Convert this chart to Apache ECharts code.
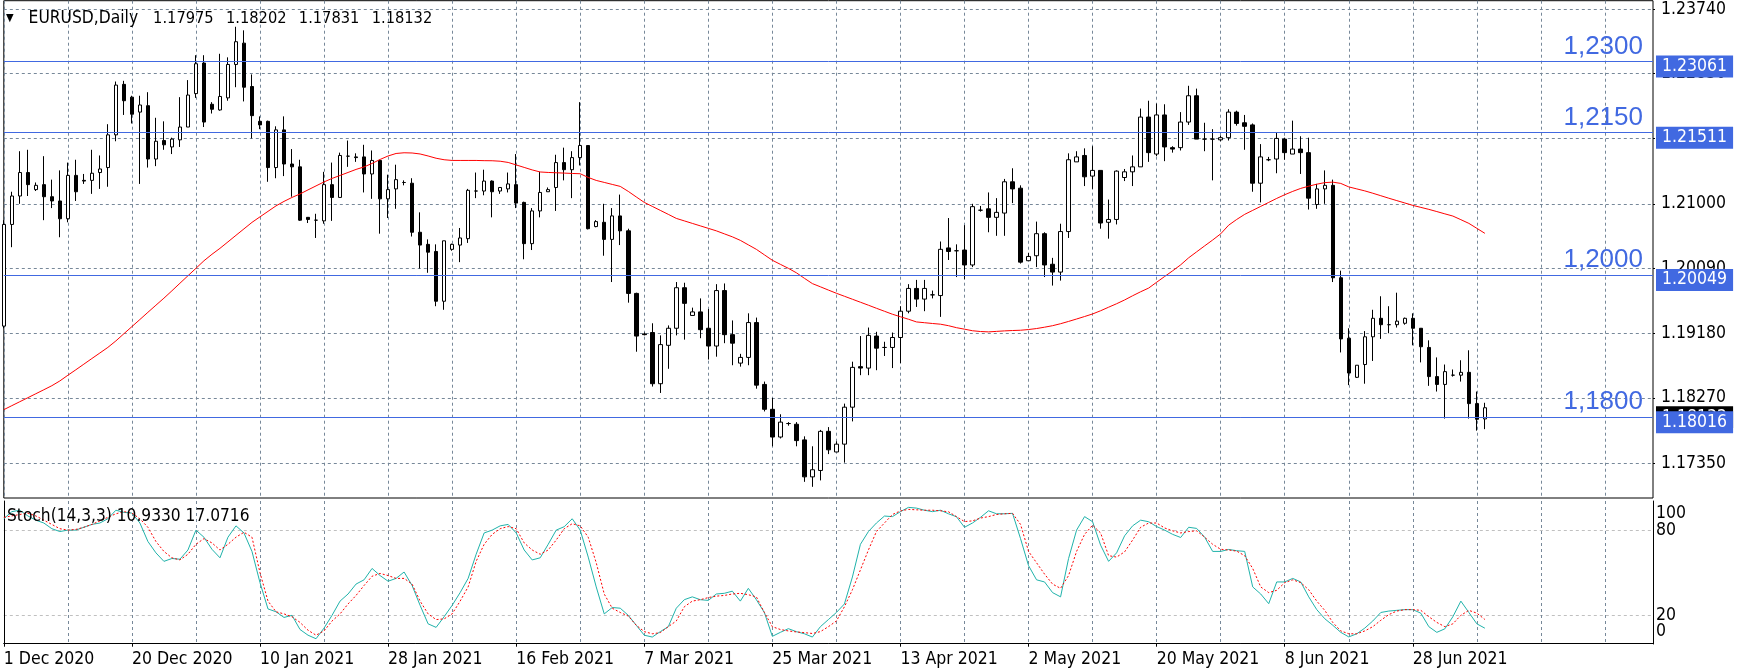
<!DOCTYPE html>
<html><head><meta charset="utf-8">
<script src="https://cdn.jsdelivr.net/npm/echarts@6/dist/echarts.min.js"></script>
<style>html,body{margin:0;padding:0;background:#fff}#c{width:1744px;height:672px}</style>
</head><body><div id="c"></div><script>
const symbolName = 'EURUSD,Daily';
const dateLabels = ['1 Dec 2020','20 Dec 2020','10 Jan 2021','28 Jan 2021','16 Feb 2021','7 Mar 2021','25 Mar 2021','13 Apr 2021','2 May 2021','20 May 2021','8 Jun 2021','28 Jun 2021'];
const barsPerLabel = 16;
const barsPerGrid = 8;
const totalSlots = 207;

const open = [1.1928,1.2071,1.2111,1.2144,1.2120,1.2127,1.2110,1.2104,1.2079,1.2140,
1.2133,1.2133,1.2144,1.2151,1.2197,1.2268,1.2250,1.2229,1.2238,1.2163,
1.2189,1.2180,1.2190,1.2208,1.2255,1.2298,1.2240,1.2232,1.2249,1.2296,
1.2326,1.2265,1.2216,1.2216,1.2151,1.2204,1.2156,1.2152,1.2081,1.2077,
1.2076,1.2127,1.2109,1.2167,1.2166,1.2166,1.2142,1.2161,1.2107,1.2121,
1.2130,1.2129,1.2060,1.2043,1.2033,1.1963,1.2036,1.2042,1.2051,1.2118,
1.2118,1.2132,1.2118,1.2121,1.2127,1.2102,1.2044,1.2090,1.2117,1.2123,
1.2158,1.2148,1.2165,1.2182,1.2068,1.2074,1.2050,1.2083,1.2062,1.1974,
1.1917,1.1919,1.1847,1.1901,1.1925,1.1982,1.1943,1.1948,1.1925,1.1900,
1.1978,1.1916,1.1876,1.1884,1.1933,1.1846,1.1811,1.1772,1.1791,1.1790,
1.1768,1.1716,1.1725,1.1780,1.1751,1.1762,1.1814,1.1871,1.1869,1.1914,
1.1898,1.1898,1.1912,1.1949,1.1981,1.1966,1.1972,1.1971,1.2038,1.2034,
1.2035,1.2014,1.2091,1.2093,1.2081,1.2087,1.2131,1.2122,1.2020,1.2027,
1.2058,1.2015,1.2004,1.2061,1.2159,1.2168,1.2139,1.2147,1.2074,1.2078,
1.2137,1.2145,1.2152,1.2222,1.2170,1.2225,1.2179,1.2179,1.2215,1.2252,
1.2191,1.2191,1.2190,1.2193,1.2229,1.2214,1.2211,1.2129,1.2162,1.2163,
1.2191,1.2170,1.2177,1.2172,1.2099,1.2121,1.2126,1.1996,1.1911,1.1856,
1.1874,1.1913,1.1939,1.1930,1.1930,1.1932,1.1939,1.1925,1.1898,1.1857,
1.1846,1.1859,1.1859,1.1863,1.1819,1.17975];
const high = [1.2077,1.2117,1.2174,1.2176,1.2130,1.2167,1.2134,1.2147,1.2158,1.2162,
1.2142,1.2176,1.2168,1.2212,1.2272,1.2273,1.2252,1.2252,1.2257,1.2221,
1.2216,1.2193,1.2250,1.2274,1.2309,1.2309,1.2243,1.2311,1.2306,1.2349,
1.2344,1.2282,1.2223,1.2217,1.2209,1.2223,1.2177,1.2162,1.2081,1.2086,
1.2145,1.2158,1.2172,1.2189,1.2171,1.2183,1.2175,1.2162,1.2141,1.2155,
1.2133,1.2136,1.2088,1.2050,1.2043,1.2048,1.2044,1.2066,1.2121,1.2144,
1.2148,1.2133,1.2123,1.2144,1.2170,1.2103,1.2094,1.2145,1.2123,1.2169,
1.2179,1.2174,1.2243,1.2182,1.2077,1.2100,1.2094,1.2113,1.2065,1.1975,
1.1919,1.1932,1.1915,1.1929,1.1990,1.1989,1.1954,1.1967,1.1952,1.1987,
1.1988,1.1936,1.1889,1.1946,1.1940,1.1850,1.1827,1.1804,1.1793,1.1793,
1.1773,1.1759,1.1782,1.1786,1.1766,1.1819,1.1878,1.1914,1.1926,1.1920,
1.1906,1.1919,1.1956,1.1987,1.1993,1.1993,1.1978,1.2047,1.2080,1.2043,
1.2070,1.2100,1.2097,1.2116,1.2108,1.2135,1.2150,1.2126,1.2031,1.2075,
1.2060,1.2024,1.2072,1.2171,1.2174,1.2178,1.2181,1.2147,1.2106,1.2147,
1.2149,1.2168,1.2234,1.2245,1.2241,1.2240,1.2181,1.2229,1.2266,1.2262,
1.2214,1.2205,1.2196,1.2233,1.2231,1.2225,1.2213,1.2184,1.2166,1.2201,
1.2193,1.2217,1.2195,1.2193,1.2128,1.2147,1.2134,1.2006,1.1925,1.1873,
1.1921,1.1951,1.1970,1.1956,1.1975,1.1940,1.1946,1.1925,1.1908,1.1884,
1.1874,1.1867,1.1880,1.1894,1.1836,1.18202];
const low = [1.1925,1.2039,1.2100,1.2111,1.2118,1.2077,1.2094,1.2053,1.2074,1.2104,
1.2128,1.2114,1.2121,1.2124,1.2188,1.2225,1.2213,1.2128,1.2151,1.2153,
1.2176,1.2170,1.2180,1.2208,1.2249,1.2208,1.2227,1.2231,1.2245,1.2264,
1.2244,1.2192,1.2205,1.2131,1.2136,1.2139,1.2110,1.2076,1.2073,1.2052,
1.2072,1.2076,1.2109,1.2152,1.2159,1.2116,1.2107,1.2058,1.2080,1.2093,
1.2126,1.2054,1.2009,1.2003,1.1956,1.1951,1.2034,1.2018,1.2045,1.2108,
1.2112,1.2081,1.2114,1.2116,1.2094,1.2022,1.2035,1.2081,1.2117,1.2090,
1.2133,1.2108,1.2154,1.2064,1.2067,1.2027,1.1990,1.2042,1.1961,1.1892,
1.1915,1.1843,1.1834,1.1868,1.1915,1.1909,1.1943,1.1911,1.1881,1.1885,
1.1904,1.1873,1.1871,1.1873,1.1840,1.1808,1.1759,1.1770,1.1788,1.1759,
1.1709,1.1702,1.1711,1.1748,1.1751,1.1736,1.1794,1.1859,1.1859,1.1866,
1.1886,1.1869,1.1876,1.1946,1.1955,1.1949,1.1967,1.1941,1.2021,1.1997,
1.1994,1.2011,1.2089,1.2060,1.2055,1.2055,1.2101,1.2016,1.2020,1.2011,
1.1997,1.1985,1.1992,1.2052,1.2159,1.2125,1.2121,1.2065,1.2051,1.2071,
1.2132,1.2125,1.2152,1.2159,1.2167,1.2160,1.2172,1.2175,1.2211,1.2191,
1.2174,1.2133,1.2188,1.2189,1.2210,1.2176,1.2117,1.2102,1.2160,1.2143,
1.2162,1.2170,1.2142,1.2092,1.2093,1.2100,1.1990,1.1891,1.1845,1.1855,
1.1847,1.1879,1.1910,1.1918,1.1926,1.1930,1.1901,1.1877,1.1844,1.1836,
1.1798,1.1857,1.1850,1.1798,1.1781,1.17831];
const close = [1.2071,1.2111,1.2144,1.2127,1.2126,1.2110,1.2104,1.2079,1.2140,1.2117,
1.2132,1.2143,1.2149,1.2197,1.2267,1.2245,1.2226,1.2239,1.2163,1.2188,
1.2183,1.2191,1.2208,1.2253,1.2297,1.2215,1.2233,1.2251,1.2296,1.2328,
1.2264,1.2224,1.2211,1.2151,1.2204,1.2156,1.2152,1.2077,1.2078,1.2077,
1.2127,1.2109,1.2168,1.2167,1.2165,1.2142,1.2161,1.2107,1.2120,1.2134,
1.2130,1.2060,1.2042,1.2032,1.1963,1.2048,1.2043,1.2052,1.2119,1.2118,
1.2132,1.2117,1.2123,1.2128,1.2101,1.2044,1.2090,1.2116,1.2120,1.2158,
1.2148,1.2165,1.2182,1.2065,1.2075,1.2050,1.2083,1.2062,1.1974,1.1914,
1.1916,1.1847,1.1902,1.1925,1.1982,1.1960,1.1948,1.1923,1.1900,1.1978,
1.1916,1.1904,1.1884,1.1933,1.1845,1.1811,1.1772,1.1793,1.1791,1.1767,
1.1716,1.1726,1.1780,1.1754,1.1762,1.1814,1.1870,1.1869,1.1915,1.1897,
1.1898,1.1912,1.1949,1.1981,1.1966,1.1981,1.1972,1.2036,1.2033,1.2034,
1.2014,1.2096,1.2091,1.2081,1.2088,1.2131,1.2121,1.2018,1.2026,1.2058,
1.2014,1.2004,1.2061,1.2162,1.2166,1.2138,1.2147,1.2073,1.2078,1.2146,
1.2145,1.2152,1.2222,1.2172,1.2225,1.2180,1.2177,1.2215,1.2252,1.2191,
1.2191,1.2191,1.2193,1.2229,1.2213,1.2209,1.2129,1.2166,1.2162,1.2192,
1.2172,1.2177,1.2172,1.2108,1.2121,1.2126,1.1996,1.1910,1.1862,1.1873,
1.1913,1.1939,1.1930,1.1930,1.1935,1.1939,1.1925,1.1899,1.1857,1.1846,
1.1864,1.1859,1.1863,1.1819,1.1797,1.18132];
const ma50 = [1.18105,1.18161,1.18217,1.18273,1.18329,1.18385,1.18442,1.18509,1.18589,1.18666,
1.18745,1.18824,1.18902,1.18981,1.19072,1.19173,1.19273,1.19373,1.19474,1.19574,
1.19673,1.19777,1.19883,1.19988,1.20093,1.20199,1.20290,1.20374,1.20465,1.20557,
1.20648,1.20739,1.20817,1.20894,1.20971,1.21034,1.21090,1.21139,1.21196,1.21252,
1.21308,1.21357,1.21399,1.21441,1.21484,1.21519,1.21568,1.21624,1.21673,1.21708,
1.21718,1.21715,1.21701,1.21673,1.21641,1.21620,1.21610,1.21610,1.21610,1.21610,
1.21607,1.21606,1.21599,1.21582,1.21547,1.21512,1.21477,1.21448,1.21441,1.21437,
1.21432,1.21427,1.21423,1.21371,1.21329,1.21301,1.21273,1.21245,1.21175,1.21097,
1.21020,1.20964,1.20908,1.20852,1.20795,1.20760,1.20725,1.20690,1.20655,1.20620,
1.20578,1.20536,1.20486,1.20423,1.20360,1.20283,1.20206,1.20149,1.20093,1.20030,
1.19953,1.19878,1.19833,1.19787,1.19742,1.19700,1.19658,1.19616,1.19574,1.19531,
1.19489,1.19447,1.19412,1.19377,1.19339,1.19328,1.19317,1.19307,1.19286,1.19258,
1.19237,1.19215,1.19204,1.19199,1.19206,1.19213,1.19218,1.19222,1.19232,1.19246,
1.19265,1.19286,1.19314,1.19346,1.19380,1.19415,1.19451,1.19496,1.19546,1.19595,
1.19648,1.19707,1.19763,1.19815,1.19897,1.19978,1.20058,1.20142,1.20241,1.20325,
1.20409,1.20491,1.20578,1.20700,1.20780,1.20852,1.20908,1.20964,1.21020,1.21076,
1.21128,1.21175,1.21217,1.21248,1.21276,1.21298,1.21305,1.21287,1.21238,1.21210,
1.21182,1.21149,1.21114,1.21079,1.21045,1.21012,1.20978,1.20950,1.20922,1.20891,
1.20859,1.20828,1.20777,1.20725,1.20655,1.20585];
const stochK = [88,93,94,90,87,85,81,79,80,80,
82,84,85,88,94,92.5,92,85,72,64,
58,60,59.5,66,80,75,66.5,60.5,75,83,
78,65,43,24.5,22.5,18.5,20,10,6,3.5,
11,20,30,35,42,45,53,48,44,46,
50.5,41,27,14,11.5,19,27,36,46,63,
78,80,83,84,78,66,59,60.5,70,80,
82.4,88,80,61,40,21,25.5,25,20,13,
6,4.7,8.5,12,25,31,33,31,30.5,35,
35.5,37,30,39,31,22,5.2,8,10.6,8.5,
7,4.7,12,17,22,28,47,70,79,85,
89.9,89.5,93,96,95.5,94,93,94,91.5,89.4,
82,85,89,93.6,91.5,91.5,91.8,74,55,45,
43.5,36,33,60,80,89.5,85.9,69.4,58,64,
76,83,87,85.9,82.5,80,77,74.8,82,81.2,
75,65,65,66.4,65.5,65,40,35,28.2,43.5,
43.5,46,43.5,33,24,17.6,13,8,4.8,7,
11,16,22,23,23.5,24,24,21.5,12,8,
10.5,19,30,22,14,10.9330];
const stochD = [89,90,91,92,90,87,84,81,80,80.5,
82,84,86.5,89,91.5,93,92,88,82,72,
65,60.5,59,63,70,74,71,66,70,75,
78.5,75,50,30,22.5,21,19,15,9.5,6,
9,16,21,28,34,41,47.5,49.5,48,46,
46,42,30,21,17,17.5,21,30,40,58,
70,77,81,82.5,81,71,66,63,66,73,
81,84.5,83,75,57,35,25,22,19.5,13,
8.5,7,7.8,12,16,26,30,31,32.5,33.5,
34,35,35.5,34.5,33,22,12,10,9,8.3,
7.8,7.2,8.5,12,16,26,38,52,66,79,
85,91,93.5,94.6,94.3,94,94,93.6,92.9,89.5,
86,86.5,88.5,89.5,91,91.5,91.8,84,65,57,
49,42,39,48,65,77,83.5,78,62,61,
64.7,73,82,85,85,81.5,79.5,78,79,79.5,
75,70,66.5,66,65.2,62,53,40,36,37.6,
43,45,43,38,30,23.5,15,9,7,7,
9,12,16.5,20.5,23,24,24,23.5,19,15,
12,14,20,23.5,21.5,17.0716];

const priceTicks = [1.17350,1.18270,1.19180,1.20090,1.21000,1.21920,1.22830,1.23740];
const levelValues = [1.23061,1.21511,1.20049,1.18016];
const levelNames = ['1,2300','1,2150','1,2000','1,1800'];
const stochMidTicks = [20,80];
const stochTopTick = [100];
const stochBottomTick = [0];

const FONT = "'DejaVu Sans Condensed','DejaVu Sans',sans-serif";
const GRIDC = '#778899';
const BLUE = '#4169E1';
const N = open.length;
const last = N - 1;
const cats = Array.from({length: totalSlots}, (_, i) => String(i));
const candles = open.map((o, i) => [o, close[i], low[i], high[i]]);

const isLabelIdx = (idx) => idx % barsPerLabel === 0 && idx / barsPerLabel < dateLabels.length;
const isGridIdx = (idx) => idx % barsPerGrid === 0;

const marks = [];
marks.push({yAxis: close[last], lineStyle: {color: '#7a8796', type: 'solid', width: 1},
  label: {show: true, position: 'end', formatter: close[last].toFixed(5), backgroundColor: '#000', color: '#fff',
    fontSize: 17.5, fontFamily: FONT, padding: [2, 6, 2, 6], distance: 3}});
levelValues.forEach((v, k) => {
  marks.push({yAxis: v, lineStyle: {color: BLUE, type: 'solid', width: 1},
    label: {show: true, position: 'insideEndTop', formatter: levelNames[k], color: BLUE, fontSize: 26,
      fontFamily: "'Liberation Sans',Arial,sans-serif", distance: [10, 2]}});
  marks.push({yAxis: v, lineStyle: {color: 'rgba(0,0,0,0)', width: 1},
    label: {show: true, position: 'end', formatter: v.toFixed(5), backgroundColor: BLUE, color: '#fff',
      fontSize: 17.5, fontFamily: FONT, padding: [2, 6, 2, 6], distance: 3, offset: [0, 5]}});
});

const hdrStyle = {fontSize: 16.3, fontFamily: FONT, color: '#000'};
const hdrPrices = [open[last], high[last], low[last], close[last]].map(v => v.toFixed(5));
const headerText = '{t|▼}{s|' + symbolName + '}' + hdrPrices.map((p, k) => '{' + (k === 0 ? 'f' : 'p') + '|' + p + '}').join('');

const stochAxisBase = {type: 'value', gridIndex: 1, position: 'right', min: -0.2, max: 100.5,
  axisLine: {show: false}, axisTick: {show: false}, splitLine: {show: false}};

const chart = echarts.init(document.getElementById('c'), null, {renderer: 'canvas'});
const L = 3.8, W = 1649.2;
chart.setOption({
  animation: false,
  backgroundColor: '#fff',
  title: [
    {text: headerText, left: 6, top: 10, padding: 0,
      textStyle: Object.assign({fontWeight: 'normal', rich: {
        t: {fontSize: 11, fontFamily: FONT, color: '#000'},
        s: {padding: [0, 0, 0, 15], fontSize: 17.3, fontFamily: FONT, color: '#000'},
        f: Object.assign({padding: [0, 0, 0, 15]}, hdrStyle),
        p: Object.assign({padding: [0, 0, 0, 12.3]}, hdrStyle)
      }}, hdrStyle)},
    {text: 'Stoch(14,3,3) ' + stochK[last].toFixed(4) + ' ' + stochD[last].toFixed(4),
      left: 7, top: 508, padding: 0,
      textStyle: {fontSize: 17.2, fontWeight: 'normal', color: '#000', fontFamily: FONT}}
  ],
  grid: [
    {left: L, width: W, top: 0, height: 498, show: true, borderColor: '#000', borderWidth: 1, backgroundColor: 'transparent'},
    {left: L, width: W, top: 501, height: 143, show: false}
  ],
  xAxis: [
    {type: 'category', gridIndex: 0, data: cats, boundaryGap: false,
      axisLine: {show: false}, axisTick: {show: false}, axisLabel: {show: false},
      splitLine: {show: true, interval: (i) => isGridIdx(i), lineStyle: {color: GRIDC, type: [3, 3], width: 1}}},
    {type: 'category', gridIndex: 1, data: cats, boundaryGap: false,
      axisLine: {show: true, lineStyle: {color: GRIDC, type: [3, 3], width: 1}},
      axisTick: {show: true, interval: (i) => isLabelIdx(i), length: 3, lineStyle: {color: '#000', type: 'solid'}},
      axisLabel: {show: true, interval: (i) => isLabelIdx(i), align: 'left', margin: 6, color: '#000',
        fontSize: 17.5, fontFamily: FONT,
        formatter: (val) => { const n = Number(val); return isLabelIdx(n) ? dateLabels[n / barsPerLabel] : ''; }},
      splitLine: {show: true, interval: (i) => isGridIdx(i), lineStyle: {color: GRIDC, type: [3, 3], width: 1}}},
    {type: 'category', gridIndex: 1, data: cats, boundaryGap: false, position: 'top',
      axisLine: {show: true, lineStyle: {color: '#000', width: 1}}, axisTick: {show: false}, axisLabel: {show: false},
      splitLine: {show: false}}
  ],
  yAxis: [
    {type: 'value', gridIndex: 0, position: 'right', min: 1.168627, max: 1.238566, scale: true,
      axisLine: {show: false},
      axisTick: {show: true, length: 2, customValues: priceTicks, lineStyle: {color: '#000'}},
      axisLabel: {show: true, customValues: priceTicks, formatter: (v) => v.toFixed(5), margin: 8,
        color: '#000', fontSize: 17.5, fontFamily: FONT},
      splitLine: {show: true, lineStyle: {color: GRIDC, type: [3, 3], width: 1}}},
    Object.assign({}, stochAxisBase, {
      axisLine: {show: true, lineStyle: {color: '#000', width: 1}},
      axisTick: {show: false, customValues: stochMidTicks},
      axisLabel: {show: true, customValues: stochMidTicks, margin: 3, color: '#000', fontSize: 17.5, fontFamily: FONT},
      splitLine: {show: true, lineStyle: {color: '#c0c0c0', type: [3, 3], width: 1}}}),
    Object.assign({}, stochAxisBase, {
      axisTick: {show: false, customValues: stochTopTick},
      axisLabel: {show: true, customValues: stochTopTick, margin: 3, color: '#000', fontSize: 17.5, fontFamily: FONT,
        verticalAlign: 'top', padding: [3, 0, 0, 0]}}),
    Object.assign({}, stochAxisBase, {
      axisTick: {show: false, customValues: stochBottomTick},
      axisLabel: {show: true, customValues: stochBottomTick, margin: 3, color: '#000', fontSize: 17.5, fontFamily: FONT,
        verticalAlign: 'bottom', padding: [0, 0, 3, 0]}}),
    Object.assign({}, stochAxisBase, {position: 'left',
      axisLine: {show: true, lineStyle: {color: '#000', width: 1}}, axisLabel: {show: false}})
  ],
  series: [
    {type: 'candlestick', xAxisIndex: 0, yAxisIndex: 0, data: candles, barWidth: 4,
      itemStyle: {color: '#fff', color0: '#000', borderColor: '#000', borderColor0: '#000', borderColorDoji: '#000', borderWidth: 1},
      markLine: {symbol: ['none', 'none'], silent: true, animation: false, data: marks}},
    {type: 'line', name: 'MA', xAxisIndex: 0, yAxisIndex: 0, data: ma50, showSymbol: false, symbol: 'none',
      lineStyle: {color: '#ff0000', width: 1}, z: 3},
    {type: 'line', name: '%K', xAxisIndex: 1, yAxisIndex: 1, data: stochK, showSymbol: false, symbol: 'none',
      lineStyle: {color: '#20B2AA', width: 1}},
    {type: 'line', name: '%D', xAxisIndex: 1, yAxisIndex: 1, data: stochD, showSymbol: false, symbol: 'none',
      lineStyle: {color: '#ff0000', width: 1, type: [2, 2]}}
  ]
});
</script></body></html>
